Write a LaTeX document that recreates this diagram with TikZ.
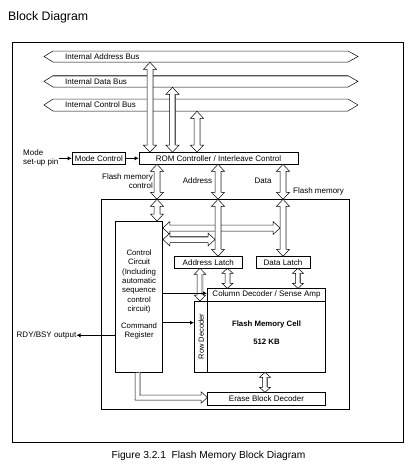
\documentclass[tikz,border=0pt]{standalone}
\usepackage{fontspec}
\setmainfont{Liberation Sans}
\usetikzlibrary{arrows.meta}
\tikzset{
  box/.style={draw, line width=0.6pt, inner sep=0pt, fill=white, font=\fontsize{8}{9.3}\selectfont},
  lbl/.style={inner sep=0pt, font=\fontsize{8}{9.3}\selectfont},
  blk/.style={line width=1.1pt, -{Latex[length=4pt,width=4.2pt]}},
  hol/.style={fill=white, draw=black, line width=0.5pt, line join=miter},
  shadeln/.style={draw=gray!55, line width=1.3pt},
}
% vertical hollow double arrow: x, ytop, ybot, shaft half, head half, head length
\newcommand{\vdarr}[6]{%
  \filldraw[hol] (#1,#2) -- ({#1+#5},{#2+#6}) -- ({#1+#4},{#2+#6}) -- ({#1+#4},{#3-#6}) -- ({#1+#5},{#3-#6}) -- (#1,#3)
    -- ({#1-#5},{#3-#6}) -- ({#1-#4},{#3-#6}) -- ({#1-#4},{#2+#6}) -- ({#1-#5},{#2+#6}) -- cycle;
  \draw[shadeln] ({#1+#4-0.7},{#2+#6}) -- ({#1+#4-0.7},{#3-#6});
}
% horizontal hollow double arrow: y, xleft, xright, shaft half, head half, head length
\newcommand{\hdarr}[6]{%
  \filldraw[hol] (#2,#1) -- ({#2+#6},{#1-#5}) -- ({#2+#6},{#1-#4}) -- ({#3-#6},{#1-#4}) -- ({#3-#6},{#1-#5}) -- (#3,#1)
    -- ({#3-#6},{#1+#5}) -- ({#3-#6},{#1+#4}) -- ({#2+#6},{#1+#4}) -- ({#2+#6},{#1+#5}) -- cycle;
  \draw[shadeln] ({#2+#6},{#1-#4+0.7}) -- ({#3-#6},{#1-#4+0.7});
}
% bus: ytop, ybot, text, name
\newcommand{\busshape}[4]{%
  \filldraw[hol] (44,{(#1+#2)/2}) -- (53,#1) -- (348,#1) -- (358,{(#1+#2)/2}) -- (348,#2) -- (53,#2) -- cycle;
  \draw[shadeln] (53,{#1+0.7}) -- (348,{#1+0.7});
  \node[lbl, anchor=west] (#4) at (65,{(#1+#2)/2}) {#3};
}
\begin{document}
\begin{tikzpicture}[x=1pt, y=-1pt]
\useasboundingbox[fill=white] (0,0) rectangle (414,469);

\node[inner sep=0pt, anchor=west, font=\fontsize{12.3}{14}\selectfont] (title) at (8,17) {Block Diagram};
\node[draw, line width=0.8pt, inner sep=0pt, minimum width=390.5, minimum height=400] (frame) at (207.75,242) {};
\node[inner sep=0pt, font=\fontsize{10.2}{12}\selectfont] (caption) at (208.5,455.5) {Figure 3.2.1\ \ Flash Memory Block Diagram};

% buses
\busshape{51}{62}{Internal Address Bus}{abus}
\busshape{75.7}{87}{Internal Data Bus}{dbus}
\busshape{99}{111}{Internal Control Bus}{cbus}

% bus to ROM arrows
\vdarr{150}{62.3}{152.2}{3}{6.5}{7}
\vdarr{172.5}{87.3}{152.2}{3}{6.5}{7}
\vdarr{197}{111.3}{152.2}{3}{6.5}{7}

% mode control and ROM controller
\node[box, minimum width=53.7, minimum height=12] (mode) at (98.85,158.3) {Mode Control};
\node[box, minimum width=159, minimum height=12] (rom) at (218.5,158.3) {ROM Controller / Interleave Control};
\node[lbl, align=left, anchor=west, font=\fontsize{8}{8.7}\selectfont] (pin) at (23,157.6) {Mode\\set-up pin};
\draw[blk] (pin.east |- mode.west) -- (mode.west);
\draw[blk] (mode.east) -- (rom.west);

% flash memory box
\node[draw, line width=0.8pt, inner sep=0pt, minimum width=248.3, minimum height=210] (flash) at (225.15,304.3) {};

% labels
\node[lbl, align=right, anchor=east] (fmc) at (153,181) {Flash memory\\control};
\node[lbl] (addrl) at (197.5,181) {Address};
\node[lbl] (datal) at (263,181) {Data};
\node[lbl, anchor=west] (fml) at (293,191.5) {Flash memory};

% ROM to flash arrows
\vdarr{157}{164.3}{199.3}{3}{6.5}{7}
\vdarr{218}{164.3}{199.3}{3}{6.5}{7}
\vdarr{283}{164.3}{199.3}{3}{6.5}{7}

% control circuit
\node[box, minimum width=47.2, minimum height=151.3] (ctrl) at (139.1,296.65) {};
\node[lbl, align=center, font=\fontsize{7.8}{9.3}\selectfont] (ctrltxt) at (139.1,281.4) {Control\\Circuit\\(Including\\automatic\\sequence\\control\\circuit)};
\node[lbl, align=center, font=\fontsize{7.8}{9.3}\selectfont] (cmdtxt) at (139.1,331.3) {Command\\Register};

\vdarr{157}{199.3}{221}{3}{6.5}{7}

% horizontal arrows from control circuit
\hdarr{228}{162.9}{280}{3}{6.5}{7}
\hdarr{239.5}{162.9}{215}{3}{6.5}{7}

% latches
\node[box, minimum width=68, minimum height=12] (alatch) at (208.3,262.3) {Address Latch};
\node[box, minimum width=54, minimum height=12] (dlatch) at (283,262.3) {Data Latch};
\vdarr{218}{199.3}{256.3}{3}{6.5}{7}
\vdarr{283}{199.3}{256.3}{3}{6.5}{7}

% memory array
\node[box, minimum width=118.4, minimum height=12.7] (coldec) at (266.5,294.65) {Column Decoder / Sense Amp};
\node[box, minimum width=13, minimum height=71.3] (rowdec) at (200.8,336.65) {};
\node[lbl, rotate=90, font=\fontsize{7.5}{9}\selectfont] (rowtxt) at (201.2,336.65) {Row Decoder};
\node[box, minimum width=118.4, minimum height=71.3] (cell) at (266.5,336.65) {};
\node[lbl, font=\fontsize{7.8}{9}\bfseries] (celltxt) at (266.5,324.3) {Flash Memory Cell};
\node[lbl, font=\fontsize{7.8}{9}\bfseries] (sizetxt) at (266.5,341.7) {512 KB};
\node[box, minimum width=118.4, minimum height=12.7] (erase) at (266.5,398.65) {Erase Block Decoder};

% small arrows
\vdarr{200}{268.3}{301}{2.8}{5.8}{6}
\vdarr{227.5}{268.3}{288.3}{2.5}{5.5}{5}
\vdarr{298}{268.3}{288.3}{2.5}{5.5}{5}
\vdarr{265}{372.3}{392.3}{2.5}{5.5}{5}

% L-shaped arrow to erase block decoder
\filldraw[hol] (135,372.3) -- (135,400) -- (201,400) -- (201,403.3) -- (207.3,397.5) -- (201,391.7) -- (201,395) -- (140,395) -- (140,372.3) -- cycle;
\draw[shadeln] (139.3,372.3) -- (139.3,395.7) -- (201,395.7);

% black arrows from control circuit
\draw[blk] (ctrl.east |- 0,293.3) -- (coldec.west |- 0,293.3);
\draw[blk] (ctrl.east |- 0,322.7) -- (rowdec.west |- 0,322.7);
\node[lbl, anchor=east] (rdy) at (76.5,335.3) {RDY/BSY output};
\draw[blk] (ctrl.west |- rdy.east) -- (rdy.east);
\end{tikzpicture}
\end{document}
